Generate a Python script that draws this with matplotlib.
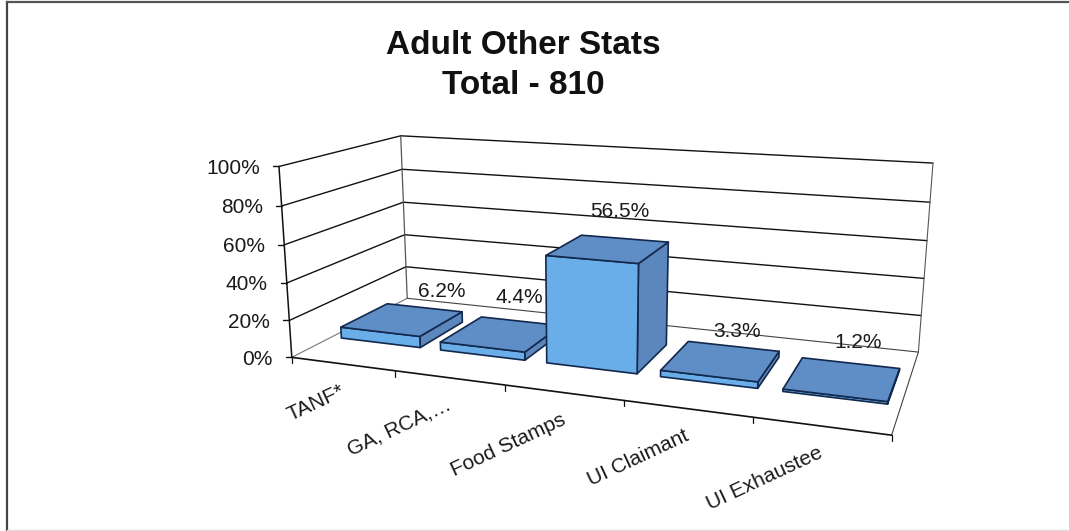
import numpy as np
import matplotlib
matplotlib.use("Agg")
import matplotlib.pyplot as plt
from matplotlib.patches import Polygon

plt.rcParams["font.family"] = ["Liberation Sans", "DejaVu Sans"]

categories = ["TANF*", "GA, RCA,\u2026", "Food Stamps", "UI Claimant", "UI Exhaustee"]
values = [6.2, 4.4, 56.5, 3.3, 1.2]
value_labels = ["6.2%", "4.4%", "56.5%", "3.3%", "1.2%"]
y_ticks = [0, 20, 40, 60, 80, 100]
title_lines = ["Adult Other Stats", "Total - 810"]

W, H = 1069, 531
N = len(categories)
GAP = 0.10
D_FRONT, D_BACK = 0.31, 0.72
FRONT_COL = "#69aee9"
TOP_COL = "#5f8dc6"
SIDE_COL = "#5b87bd"
EDGE_COL = "#12284c"
# small pixel shifts, Excel does not put the labels on a regular spot
LABEL_NUDGE = [(10, 2), (-8, -5), (-10, -9), (0, 4), (5, -1)]

# (category pos, depth, value) -> pixel, fitted on the corners of the chart box
anchors = [
    ((0, 0, 0), (291.7, 357.3)),
    ((0, 0, 100), (279.0, 166.7)),
    ((0, 1, 100), (400.7, 135.7)),
    ((0, 1, 0), (407.3, 298.3)),
    ((N, 1, 100), (933.0, 163.0)),
    ((N, 1, 0), (918.3, 352.3)),
    ((N, 0, 0), (891.7, 435.0)),
]


def fit_camera(pairs):
    rows, rhs = [], []
    for (u, d, z), (px, py) in pairs:
        rows.append([u, d, z, 1, 0, 0, 0, 0, -px * u, -px * d, -px * z])
        rows.append([0, 0, 0, 0, u, d, z, 1, -py * u, -py * d, -py * z])
        rhs += [px, py]
    sol = np.linalg.lstsq(np.array(rows, float), np.array(rhs, float), rcond=None)[0]
    return np.append(sol, 1.0).reshape(3, 4)


CAM = fit_camera(anchors)


def proj(u, d, z):
    x, y, w = CAM @ np.array([u, d, z, 1.0])
    return x / w, y / w


def line(ax, p, q, color="black", lw=1.0, zorder=2):
    ax.plot([p[0], q[0]], [p[1], q[1]], color=color, lw=lw, zorder=zorder, solid_capstyle="round")


def draw_bar(ax, i, val, zorder):
    u0, u1 = i + GAP, i + 1 - GAP
    d0, d1 = D_FRONT, D_BACK
    front = [proj(u0, d0, 0), proj(u1, d0, 0), proj(u1, d0, val), proj(u0, d0, val)]
    side = [proj(u1, d0, 0), proj(u1, d1, 0), proj(u1, d1, val), proj(u1, d0, val)]
    top = [proj(u0, d0, val), proj(u1, d0, val), proj(u1, d1, val), proj(u0, d1, val)]
    for pts, col in ((side, SIDE_COL), (front, FRONT_COL), (top, TOP_COL)):
        ax.add_patch(Polygon(pts, closed=True, facecolor=col, edgecolor=EDGE_COL,
                             lw=1.2, joinstyle="round", zorder=zorder))


fig = plt.figure(figsize=(W / 100, H / 100), dpi=100)
ax = fig.add_axes([0, 0, 1, 1])
ax.set_xlim(0, W)
ax.set_ylim(H, 0)
ax.axis("off")

# outer border of the scanned page
ax.plot([6.5, 6.5], [1.5, 530], color="#444444", lw=1.6)
ax.plot([6.5, W], [1.5, 1.5], color="#555555", lw=1.6)
ax.plot([6.5, W], [530, 530], color="#dddddd", lw=1.0)

for text, base in zip(title_lines, (54, 94)):
    ax.text(523.5, base, text, ha="center", va="baseline", fontsize=24, fontweight="bold",
            color="#111111")

# walls and gridlines
for t in y_ticks[1:]:
    col = "#111111"
    line(ax, proj(0, 0, t), proj(0, 1, t), col, 1.0)
    line(ax, proj(0, 1, t), proj(N, 1, t), col, 1.0)
line(ax, proj(0, 0, 0), proj(0, 1, 0), "#777777", 0.8)
line(ax, proj(0, 1, 0), proj(N, 1, 0), "#444444", 0.8)
line(ax, proj(N, 1, 0), proj(N, 0, 0), "#444444", 0.8)
line(ax, proj(0, 1, 0), proj(0, 1, 100), "#555555", 0.9)
line(ax, proj(N, 1, 0), proj(N, 1, 100), "#555555", 0.8)

# value axis
line(ax, proj(0, 0, 0), proj(0, 0, 100), "#111111", 1.1)
for t in y_ticks:
    x, y = proj(0, 0, t)
    line(ax, (x - 6, y), (x, y), "#111111", 1.0)
    ax.text(x - 19, y + 2, f"{t}%", ha="right", va="center", fontsize=15, color="#1a1a1a")

# category axis
line(ax, proj(0, 0, 0), proj(N, 0, 0), "#111111", 1.2)
for i in range(N + 1):
    x, y = proj(i, 0, 0)
    line(ax, (x, y), (x, y + 6), "#111111", 0.9)

for i, val in enumerate(values):
    draw_bar(ax, i, val, 3 + i)

for i, name in enumerate(categories):
    x, y = proj(i + 0.5, 0, 0)
    ax.text(x + 1, y + 26, name, ha="right", va="center", rotation=25, rotation_mode="anchor",
            fontsize=15, color="#1a1a1a", zorder=10)

for i, (val, lab) in enumerate(zip(values, value_labels)):
    x, y = proj(i + 0.5, 0.8, val)
    dx, dy = LABEL_NUDGE[i]
    ax.text(x + dx, y - 14 + dy, lab, ha="center", va="center", fontsize=15, color="#1a1a1a", zorder=10)

fig.savefig("out.png", dpi=100)
